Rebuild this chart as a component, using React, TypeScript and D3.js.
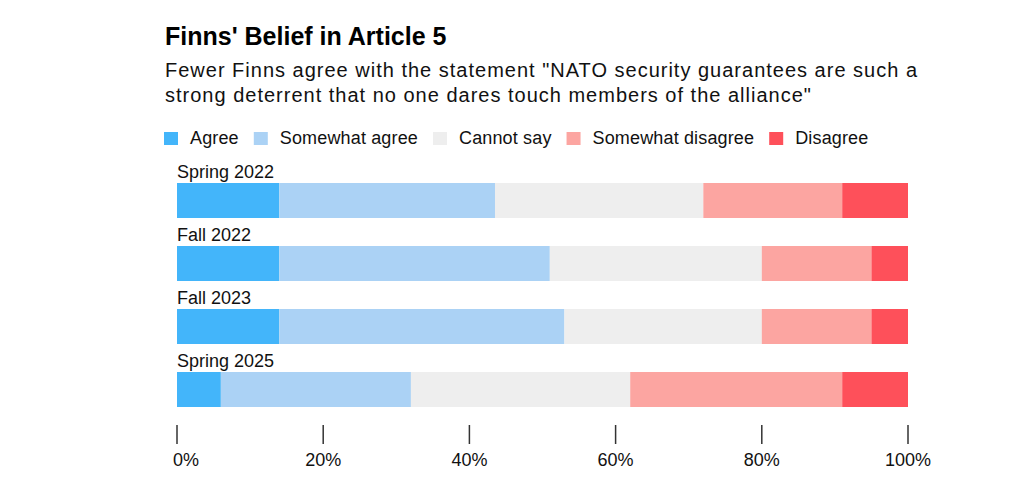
import { useEffect, useRef } from "react"
import * as d3 from "d3"

const periods = ["Spring 2022", "Fall 2022", "Fall 2023", "Spring 2025"]
const categories = ["Agree", "Somewhat agree", "Cannot say", "Somewhat disagree", "Disagree"]
const colors = ["#43b5fa", "#abd2f5", "#eeeeee", "#fca5a1", "#fe505a"]

const agree = [14, 14, 14, 6]
const somewhatAgree = [29.5, 37, 39, 26]
const cannotSay = [28.5, 29, 27, 30]
const somewhatDisagree = [19, 15, 15, 29]
const disagree = [9, 5, 5, 9]

const ticks = [0, 20, 40, 60, 80, 100]

const font = "'Liberation Sans', Arial, Helvetica, sans-serif"

export default function App() {
  const svgRef = useRef<SVGSVGElement>(null)

  useEffect(() => {
    if (!svgRef.current) return
    const svg = d3.select(svgRef.current)
    svg.selectAll("*").remove()

    const width = 1016
    const height = 493

    svg.attr("width", width).attr("height", height).style("font-family", font)

    // Title and subtitle
    svg
      .append("text")
      .attr("x", 165)
      .attr("y", 45)
      .attr("font-size", 25)
      .attr("font-weight", "bold")
      .attr("fill", "#000")
      .text("Finns' Belief in Article 5")

    const subtitle = [
      'Fewer Finns agree with the statement "NATO security guarantees are such a',
      'strong deterrent that no one dares touch members of the alliance"',
    ]
    svg
      .selectAll("text.sub")
      .data(subtitle)
      .enter()
      .append("text")
      .attr("class", "sub")
      .attr("x", 165)
      .attr("y", (_, i) => 77 + i * 25)
      .attr("font-size", 20)
      .attr("letter-spacing", 1.0)
      .attr("fill", "#111")
      .text((d) => d)

    // Legend
    const legend = svg.append("g")
    let lx = 164
    categories.forEach((c, i) => {
      legend
        .append("rect")
        .attr("x", lx)
        .attr("y", 132)
        .attr("width", 14)
        .attr("height", 13)
        .attr("fill", colors[i])
      const t = legend
        .append("text")
        .attr("x", lx + 26)
        .attr("y", 144)
        .attr("font-size", 18)
        .attr("letter-spacing", 0.15)
        .attr("fill", "#111")
        .text(c)
      const w = (t.node() as SVGTextElement).getComputedTextLength()
      lx = lx + 26 + w + 15
    })

    // Scales
    const x = d3.scaleLinear().domain([0, 100]).range([177, 908])
    const y = d3
      .scaleBand()
      .domain(periods)
      .range([183, 407])
      .paddingInner(28 / 63)
      .paddingOuter(0)

    const table = periods.map((p, i) => ({
      period: p,
      Agree: agree[i],
      "Somewhat agree": somewhatAgree[i],
      "Cannot say": cannotSay[i],
      "Somewhat disagree": somewhatDisagree[i],
      Disagree: disagree[i],
    }))

    const stack = d3.stack<any>().keys(categories)
    const series = stack(table)

    const color = d3.scaleOrdinal<string>().domain(categories).range(colors)

    svg
      .append("g")
      .selectAll("g")
      .data(series)
      .enter()
      .append("g")
      .attr("fill", (d) => color(d.key))
      .selectAll("rect")
      .data((d) => d)
      .enter()
      .append("rect")
      .attr("x", (d) => x(d[0]))
      .attr("y", (d) => y(d.data.period) || 0)
      .attr("width", (d) => x(d[1]) - x(d[0]))
      .attr("height", y.bandwidth())

    // Row labels
    svg
      .append("g")
      .selectAll("text")
      .data(periods)
      .enter()
      .append("text")
      .attr("x", 177)
      .attr("y", (d) => (y(d) || 0) - 5)
      .attr("font-size", 18)
      .attr("fill", "#111")
      .text((d) => d)

    // Axis
    const axis = svg.append("g")
    axis
      .selectAll("line")
      .data(ticks)
      .enter()
      .append("line")
      .attr("x1", (d) => x(d))
      .attr("x2", (d) => x(d))
      .attr("y1", 425)
      .attr("y2", 444)
      .attr("stroke", "#333")
      .attr("stroke-width", 1.5)

    axis
      .selectAll("text")
      .data(ticks)
      .enter()
      .append("text")
      .attr("x", (d) => (d === 0 ? x(d) - 4 : x(d)))
      .attr("y", 466)
      .attr("text-anchor", (d) => (d === 0 ? "start" : "middle"))
      .attr("font-size", 18)
      .attr("fill", "#111")
      .text((d) => `${d}%`)
  }, [])

  return (
    <div style={{ position: "absolute", left: 0, top: 0 }}>
      <svg ref={svgRef} style={{ display: "block" }} />
    </div>
  )
}
